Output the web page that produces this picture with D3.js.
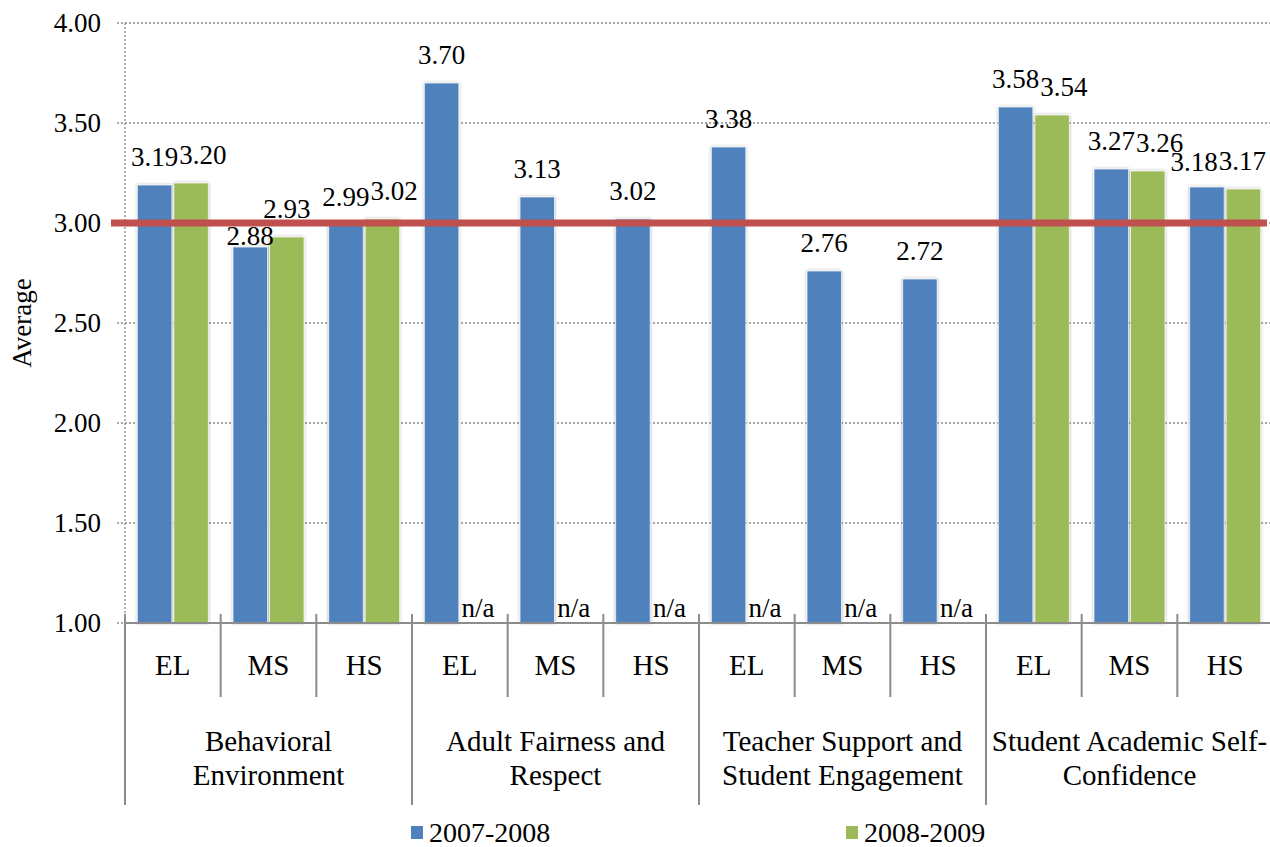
<!DOCTYPE html>
<html>
<head>
<meta charset="utf-8">
<script src="https://cdn.jsdelivr.net/npm/d3@7"></script>
<style>
  body { margin:0; background:#fff; }
  text { font-family: "Liberation Serif", "Times New Roman", serif; fill:#000; }
</style>
</head>
<body>
<div class="chart"></div>
<script>
// data
const levels = ['EL','MS','HS','EL','MS','HS','EL','MS','HS','EL','MS','HS'];
const groups = [
  ['Behavioral','Environment'],
  ['Adult Fairness and','Respect'],
  ['Teacher Support and','Student Engagement'],
  ['Student Academic Self-','Confidence']
];
const seriesNames = ['2007-2008','2008-2009'];
const values0708 = [3.19, 2.88, 2.99, 3.70, 3.13, 3.02, 3.38, 2.76, 2.72, 3.58, 3.27, 3.18];
const values0809 = [3.20, 2.93, 3.02, null, null, null, null, null, null, 3.54, 3.26, 3.17];
const yTicks = [1.00, 1.50, 2.00, 2.50, 3.00, 3.50, 4.00];
const benchmark = 3.00;

const colors = ['#4F81BD','#9BBB59'];
const W = 1270, H = 847;
const plot = {left:125, right:1273, top:23, bottom:623};

const svg = d3.select('.chart').append('svg').attr('width',W).attr('height',H);

const defs = svg.append('defs');
const glow = defs.append('filter').attr('id','glow')
  .attr('x','-20%').attr('y','-20%').attr('width','140%').attr('height','140%');
glow.append('feDropShadow').attr('dx',0).attr('dy',0).attr('stdDeviation',1.6)
  .attr('flood-color','#000').attr('flood-opacity',0.35);

const x = d3.scaleBand().domain(d3.range(levels.length)).range([plot.left,plot.right]);
const xs = d3.scaleBand().domain([0,1]).range([0,x.bandwidth()])
  .paddingInner(0.055).paddingOuter(0.338);
const y = d3.scaleLinear().domain([1,4]).range([plot.bottom,plot.top]);

// gridlines
svg.append('g').selectAll('line').data(yTicks.filter(d=>d>1)).enter().append('line')
  .attr('x1',plot.left-8).attr('x2',W).attr('y1',d=>y(d)).attr('y2',d=>y(d))
  .attr('stroke','#8a8a8a').attr('stroke-width',1.3).attr('stroke-dasharray','2,2');
svg.append('line').attr('x1',plot.left).attr('x2',plot.left).attr('y1',plot.top).attr('y2',plot.bottom)
  .attr('stroke','#8a8a8a').attr('stroke-width',1.3).attr('stroke-dasharray','2,2');
svg.append('line').attr('x1',plot.left-8).attr('x2',plot.left).attr('y1',plot.bottom).attr('y2',plot.bottom)
  .attr('stroke','#8a8a8a').attr('stroke-width',1.3).attr('stroke-dasharray','2,2');

// y axis labels
const yAxis = d3.axisLeft(y).tickValues(yTicks).tickFormat(d3.format('.2f')).tickSize(0).tickPadding(24);
const yg = svg.append('g').attr('transform',`translate(${plot.left},0)`).call(yAxis);
yg.select('.domain').remove();
yg.selectAll('text').style('font-size','27px').style('font-family','"Liberation Serif", serif');

svg.append('text').attr('transform',`translate(31,${(plot.top+plot.bottom)/2}) rotate(-90)`)
  .attr('text-anchor','middle').style('font-size','27px').text('Average');

// bars
const rows = levels.map((lv,i)=>({i, v:[values0708[i], values0809[i]]}));
const bar = svg.append('g').selectAll('g').data(rows).enter().append('g')
  .attr('transform',d=>`translate(${x(d.i)},0)`);
bar.selectAll('rect').data(d=>d.v.map((v,k)=>({v,k})).filter(e=>e.v!=null)).enter().append('rect')
  .attr('x',e=>xs(e.k)).attr('width',xs.bandwidth())
  .attr('y',e=>y(e.v)).attr('height',e=>y(1)-y(e.v))
  .attr('fill',e=>colors[e.k]).attr('stroke','#fff').attr('stroke-opacity',0.7).attr('stroke-width',1)
  .attr('filter','url(#glow)');

// bottom axis line
svg.append('line').attr('x1',plot.left).attr('x2',plot.right).attr('y1',plot.bottom).attr('y2',plot.bottom)
  .attr('stroke','#8c8c8c').attr('stroke-width',2);

// benchmark line
const lineW = 7;
svg.append('line').attr('x1',plot.left-14).attr('x2',plot.right-6).attr('y1',y(benchmark)).attr('y2',y(benchmark))
  .attr('stroke','#C0504D').attr('stroke-width',lineW);

// data labels, placed roughly the way the spreadsheet did
const capH = 18;
function labelY(v){
  if (v==null) return y(1)-6;
  let b = y(v)-19;
  const lt = y(benchmark)-lineW/2, lb = y(benchmark)+lineW/2;
  if (b > lt && b-capH < lb) b = lb+capH;   // keep clear of the benchmark line
  return b;
}
const labelData = [];
rows.forEach(r => r.v.forEach((v,k) => labelData.push({i:r.i, k, v,
  cx: x(r.i)+xs(k)+xs.bandwidth()/2, by: labelY(v)})));

const labels = svg.append('g').selectAll('text').data(labelData).enter().append('text')
  .attr('text-anchor','middle').style('font-size','27px')
  .text(d=>d.v==null ? 'n/a' : d3.format('.2f')(d.v))
  .each(function(d){ d.w = this.getComputedTextLength(); });

rows.forEach(r=>{
  const [a,b] = labelData.filter(d=>d.i===r.i);
  if (a.v!=null && b.v!=null && Math.abs(a.by-b.by)<20) {
    const ov = (a.cx+a.w/2) - (b.cx-b.w/2);
    if (ov > -1) b.cx += ov + 1;            // push second label right
  }
  const over = Math.max(a.cx+a.w/2, b.cx+b.w/2) - (W-4);
  if (over > 0) { a.cx -= over; b.cx -= over; }   // stay inside the picture
});
labelData.forEach((d,n)=>{                  // lower a label that still clashes
  labelData.slice(0,n).forEach(p=>{
    const hx = Math.min(d.cx+d.w/2, p.cx+p.w/2) - Math.max(d.cx-d.w/2, p.cx-p.w/2);
    const vy = (p.by+1) - (d.by-capH);
    if (hx > 0 && vy > 0 && d.by > p.by) d.by += vy;
  });
});
labels.attr('x',d=>d.cx).attr('y',d=>d.by);

// category separators
const bounds = d3.range(levels.length+1).map(i=>plot.left + i*x.bandwidth());
svg.append('g').selectAll('line').data(bounds).enter().append('line')
  .attr('x1',d=>d).attr('x2',d=>d).attr('y1',plot.bottom-9)
  .attr('y2',(d,i)=>i%3===0 ? 805 : 697)
  .attr('stroke','#8c8c8c').attr('stroke-width',2);

svg.append('g').selectAll('text').data(levels).enter().append('text')
  .attr('x',(d,i)=>x(i)+x.bandwidth()/2).attr('y',675)
  .attr('text-anchor','middle').style('font-size','29px').text(d=>d);

const gl = svg.append('g').selectAll('text').data(groups).enter().append('text')
  .attr('text-anchor','middle').style('font-size','29px');
gl.selectAll('tspan').data((d,gi)=>d.map(t=>({t,gi}))).enter().append('tspan')
  .attr('x',d=>x(d.gi*3)+1.5*x.bandwidth())
  .attr('y',(d,j)=>751+j*34).text(d=>d.t);

// legend
const legendX = [411, 846];
const lg = svg.append('g').selectAll('g').data(seriesNames).enter().append('g')
  .attr('transform',(d,i)=>`translate(${legendX[i]},826)`);
lg.append('rect').attr('width',12).attr('height',13).attr('fill',(d,i)=>colors[i]);
lg.append('text').attr('x',18).attr('y',16).style('font-size','28px').text(d=>d);
</script>
</body>
</html>
